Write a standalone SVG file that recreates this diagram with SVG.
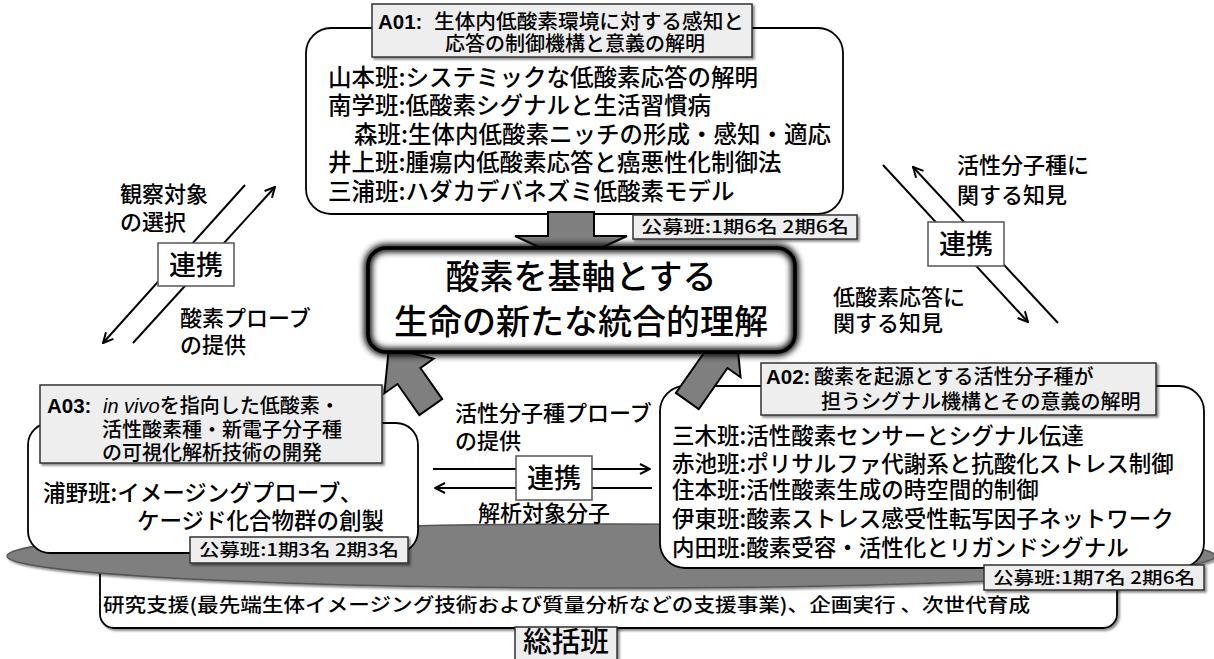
<svg xmlns="http://www.w3.org/2000/svg" width="1214" height="659" viewBox="0 0 1214 659">
<defs>
<style>
.t{font-family:"Noto Sans CJK JP","Noto Sans",sans-serif;fill:#000;font-weight:500}
.lbl{font-size:22px}
.row{font-size:23.5px}
.row2{font-size:22.5px}
.hd{font-size:20px}
.kb{font-size:17px;font-weight:500}
.ab{font-family:"Liberation Sans",Arial,sans-serif;font-weight:bold;font-size:20.5px}
.box{fill:#fff;stroke:#000;stroke-width:1.8}
.hdr{fill:#eeeeee;stroke:#333;stroke-width:1.5;filter:url(#sh)}
.ren{fill:#fff;stroke:#555;stroke-width:1.5}
.blk{fill:#7f7f7f;stroke:#000;stroke-width:2;stroke-linejoin:miter}
.ln{stroke:#000;stroke-width:2;fill:none}
</style>
<filter id="sh" x="-10%" y="-20%" width="130%" height="160%">
<feDropShadow dx="2" dy="2" stdDeviation="1.2" flood-color="#000" flood-opacity="0.45"/>
</filter>
<filter id="bl" x="-10%" y="-20%" width="120%" height="140%">
<feGaussianBlur stdDeviation="3"/>
</filter>
<marker id="ah" viewBox="0 0 12 12" refX="11" refY="6" markerWidth="12" markerHeight="12" markerUnits="userSpaceOnUse" orient="auto">
<path d="M1,1 L11,6 L1,11" fill="none" stroke="#000" stroke-width="2"/>
</marker>
</defs>

<g id="sokatsu">
<rect x="100" y="540" width="1017" height="88" rx="14" class="box" filter="url(#sh)"/>
<ellipse cx="611" cy="556" rx="604" ry="32" fill="#7f7f7f" stroke="#555" stroke-width="1.5" filter="url(#sh)"/>
<text x="103" y="612" class="t" font-size="19" textLength="927" lengthAdjust="spacingAndGlyphs">研究支援(最先端生体イメージング技術および質量分析などの支援事業)、企画実行 、次世代育成</text>
<rect x="515" y="627" width="102" height="36" fill="#eeeeee" stroke="#333" stroke-width="1.5" filter="url(#sh)"/>
<text x="566" y="652" class="t" font-size="28" text-anchor="middle" textLength="86" lengthAdjust="spacingAndGlyphs">総括班</text>
</g>

<g id="A01">
<rect x="306" y="28" width="537" height="186" rx="25" class="box"/>
<rect x="372" y="4" width="380" height="53" class="hdr"/>
<text x="378" y="29" class="ab">A01:</text>
<text x="434" y="29" class="t hd" textLength="310" lengthAdjust="spacingAndGlyphs">生体内低酸素環境に対する感知と</text>
<text x="445" y="51" class="t hd">応答の制御機構と意義の解明</text>
<text x="328" y="86" class="t row">山本班:システミックな低酸素応答の解明</text>
<text x="328" y="114" class="t row">南学班:低酸素シグナルと生活習慣病</text>
<text x="354" y="143" class="t row">森班:生体内低酸素ニッチの形成・感知・適応</text>
<text x="328" y="171" class="t row">井上班:腫瘍内低酸素応答と癌悪性化制御法</text>
<text x="328" y="200" class="t row">三浦班:ハダカデバネズミ低酸素モデル</text>
<rect x="633" y="215" width="224" height="24" fill="#eeeeee" stroke="#333" stroke-width="1.5" filter="url(#sh)"/>
<text x="641" y="233" class="t kb" textLength="208" lengthAdjust="spacingAndGlyphs">公募班:1期6名 2期6名</text>
</g>

<g id="A03">
<rect x="28" y="423" width="390" height="130" rx="22" class="box"/>
<rect x="40" y="385" width="342" height="78" class="hdr"/>
<text x="47" y="413" class="ab">A03:</text>
<text x="103" y="413" class="t hd"><tspan font-style="italic" font-family="Liberation Sans, Arial, sans-serif">in vivo</tspan>を指向した低酸素・</text>
<text x="102" y="437" class="t hd">活性酸素種・新電子分子種</text>
<text x="102" y="460" class="t hd">の可視化解析技術の開発</text>
<text x="43" y="501" class="t row2">浦野班:イメージングプローブ、</text>
<text x="137" y="529" class="t row2">ケージド化合物群の創製</text>
<rect x="190" y="537" width="218" height="26" fill="#eeeeee" stroke="#333" stroke-width="1.5" filter="url(#sh)"/>
<text x="199" y="556" class="t kb" textLength="200" lengthAdjust="spacingAndGlyphs">公募班:1期3名 2期3名</text>
</g>

<g id="A02">
<rect x="660" y="386" width="544" height="182" rx="25" class="box"/>
<rect x="761" y="363" width="395" height="52" class="hdr"/>
<text x="766" y="384" class="ab">A02:</text>
<text x="814" y="384" class="t hd">酸素を起源とする活性分子種が</text>
<text x="821" y="409" class="t hd">担うシグナル機構とその意義の解明</text>
<text x="672" y="444" class="t row2">三木班:活性酸素センサーとシグナル伝達</text>
<text x="672" y="472" class="t row2">赤池班:ポリサルファ代謝系と抗酸化ストレス制御</text>
<text x="672" y="498" class="t row2">住本班:活性酸素生成の時空間的制御</text>
<text x="672" y="527" class="t row2">伊東班:酸素ストレス感受性転写因子ネットワーク</text>
<text x="672" y="556" class="t row2">内田班:酸素受容・活性化とリガンドシグナル</text>
<rect x="984" y="565" width="220" height="25" fill="#eeeeee" stroke="#333" stroke-width="1.5" filter="url(#sh)"/>
<text x="993" y="584" class="t kb" textLength="202" lengthAdjust="spacingAndGlyphs">公募班:1期7名 2期6名</text>
</g>

<g id="block-arrows">
<polygon class="blk" points="548,212 594,212 594,236 627,236 571,262 515,236 548,236"/>
<polygon class="blk" transform="translate(409,376) rotate(-35)" points="0,-35 30,0 14,0 14,38 -14,38 -14,0 -30,0"/>
<polygon class="blk" transform="translate(716,360) rotate(35)" points="0,-35 30,0 14,0 14,50 -14,50 -14,0 -30,0"/>
</g>

<g id="center">
<rect x="368" y="248" width="427" height="104" rx="18" fill="#fff"/>
<rect x="368" y="248" width="427" height="104" rx="18" fill="none" stroke="#000" stroke-width="8" filter="url(#bl)"/>
<rect x="368" y="248" width="427" height="104" rx="18" fill="none" stroke="#000" stroke-width="3.5"/>
<text x="581" y="289" class="t" font-size="34" text-anchor="middle">酸素を基軸とする</text>
<text x="581" y="334" class="t" font-size="34" text-anchor="middle">生命の新たな統合的理解</text>
</g>

<g id="connectors">
<line class="ln" x1="245" y1="185" x2="103" y2="343" marker-end="url(#ah)"/>
<line class="ln" x1="133" y1="343" x2="275" y2="187" marker-end="url(#ah)"/>
<line class="ln" x1="883" y1="165" x2="1028" y2="322" marker-end="url(#ah)"/>
<line class="ln" x1="1058" y1="323" x2="913" y2="167" marker-end="url(#ah)"/>
<line class="ln" x1="433" y1="469" x2="650" y2="469" marker-end="url(#ah)"/>
<line class="ln" x1="652" y1="488" x2="435" y2="488" marker-end="url(#ah)"/>
</g>

<g id="renkei-left">
<rect x="158" y="243" width="76" height="43" class="ren"/>
<text x="196" y="275" class="t" font-size="27" text-anchor="middle">連携</text>
</g>
<g id="renkei-right">
<rect x="928" y="222" width="76" height="44" class="ren"/>
<text x="966" y="254" class="t" font-size="27" text-anchor="middle">連携</text>
</g>
<g id="renkei-mid">
<rect x="516" y="456" width="76" height="44" class="ren"/>
<text x="554" y="488" class="t" font-size="27" text-anchor="middle">連携</text>
</g>

<g id="labels">
<text x="120" y="202" class="t lbl">観察対象</text>
<text x="120" y="230" class="t lbl">の選択</text>
<text x="180" y="326" class="t lbl">酸素プローブ</text>
<text x="180" y="353" class="t lbl">の提供</text>
<text x="957" y="173" class="t lbl">活性分子種に</text>
<text x="957" y="203" class="t lbl">関する知見</text>
<text x="833" y="305" class="t lbl">低酸素応答に</text>
<text x="833" y="331" class="t lbl">関する知見</text>
<text x="455" y="421" class="t lbl">活性分子種プローブ</text>
<text x="455" y="449" class="t lbl">の提供</text>
<text x="478" y="521" class="t lbl">解析対象分子</text>
</g>
</svg>
